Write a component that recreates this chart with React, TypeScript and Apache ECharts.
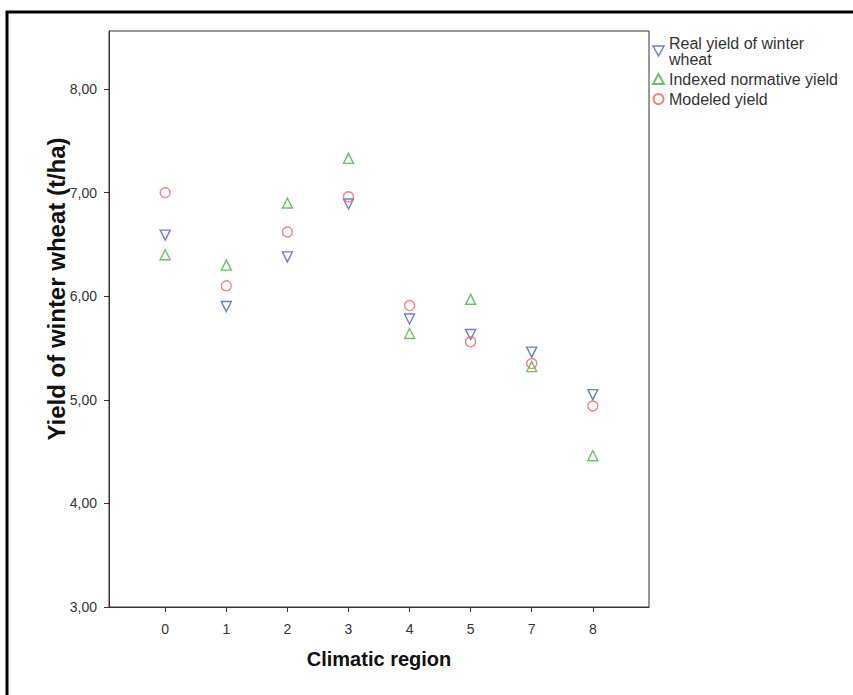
import React, { useEffect, useRef } from 'react';
import * as echarts from 'echarts';

const categories = ['0', '1', '2', '3', '4', '5', '7', '8'];
const realYield = [6.59, 5.9, 6.38, 6.89, 5.78, 5.63, 5.46, 5.05];
const normativeYield = [6.4, 6.3, 6.9, 7.33, 5.64, 5.97, 5.32, 4.46];
const modeledYield = [7.0, 6.1, 6.62, 6.96, 5.91, 5.56, 5.35, 4.94];
const yTicks = [3, 4, 5, 6, 7, 8];
const seriesNames = ['Real yield of winter wheat', 'Indexed normative yield', 'Modeled yield'];
const legendLabels = ['Real yield of winter\nwheat', 'Indexed normative yield', 'Modeled yield'];
const xTitle = 'Climatic region';
const yTitle = 'Yield of winter wheat (t/ha)';

const FONT = '"Liberation Sans", Arial, sans-serif';
const BLUE = '#4b5cbc';
const GREEN = '#3db43d';
const RED = '#f06464';
const DOWN_TRI = 'path://M0,0 L10,0 L5,9 Z';

export default function App() {
  const ref = useRef<HTMLDivElement>(null);
  useEffect(() => {
    const chart = echarts.init(ref.current!, null, { renderer: 'svg' });
    const xIdx = categories.map((_, i) => i);
    const toData = (arr: number[]) => arr.map((v, i) => [i, v]);
    const mk = (name: string, arr: number[], color: string, symbol: string, rotate: number) => ({
      name,
      type: 'scatter',
      data: toData(arr),
      symbol,
      symbolRotate: rotate,
      symbolSize: 10,
      itemStyle: { color: 'rgba(0,0,0,0)', borderColor: color, borderWidth: 1.4 },
      emphasis: { disabled: true },
    });
    chart.setOption({
      animation: false,
      backgroundColor: '#fff',
      grid: {
        left: 109, top: 31, right: 204, bottom: 88,
        show: true, borderColor: '#333', borderWidth: 1, backgroundColor: 'transparent',
      },
      legend: {
        orient: 'vertical', left: 647, top: 30,
        itemWidth: 11, itemHeight: 10, itemGap: 4,
        data: [
          { name: seriesNames[0], icon: DOWN_TRI, itemStyle: { color: 'rgba(0,0,0,0)', borderColor: BLUE, borderWidth: 1.4 } },
          { name: seriesNames[1] },
          { name: seriesNames[2] },
        ],
        formatter: (n: string) => legendLabels[seriesNames.indexOf(n)],
        textStyle: { fontSize: 16, lineHeight: 16, color: '#333', fontFamily: FONT },
      },
      xAxis: {
        type: 'value', min: -0.92, max: 7.92,
        splitLine: { show: false },
        axisLine: { show: true, onZero: false, lineStyle: { color: '#333', width: 1 } },
        axisTick: { show: true, length: 5, customValues: xIdx, lineStyle: { color: '#333' } },
        axisLabel: {
          customValues: xIdx,
          formatter: (v: number) => categories[Math.round(v)] ?? '',
          fontSize: 14, color: '#333', margin: 15, fontFamily: FONT,
        },
        name: xTitle, nameLocation: 'middle', nameGap: 42,
        nameTextStyle: { fontSize: 20, fontWeight: 'bold', color: '#111', fontFamily: FONT },
      },
      yAxis: {
        type: 'value', min: 3, max: 8.56, interval: 1,
        splitLine: { show: false },
        axisLine: { show: true, onZero: false, lineStyle: { color: '#333', width: 1 } },
        axisTick: { show: true, length: 5, customValues: yTicks, lineStyle: { color: '#333' } },
        axisLabel: {
          customValues: yTicks,
          formatter: (v: number) => v.toFixed(2).replace('.', ','),
          fontSize: 14, color: '#333', margin: 12, fontFamily: FONT,
        },
      },
      graphic: [
        {
          type: 'rect', silent: true,
          shape: { x: 7, y: 12, width: 1000, height: 1000 },
          style: { fill: 'none', stroke: '#000', lineWidth: 3 },
        },
        {
          type: 'text', silent: true, x: 56, y: 289, rotation: Math.PI / 2,
          style: {
            text: yTitle, fontSize: 24, fontWeight: 'bold', fontFamily: FONT,
            fill: '#111', align: 'center', verticalAlign: 'middle',
          },
        },
      ],
      series: [
        mk(seriesNames[0], realYield, BLUE, 'triangle', 180),
        mk(seriesNames[1], normativeYield, GREEN, 'triangle', 0),
        mk(seriesNames[2], modeledYield, RED, 'circle', 0),
      ],
    });
    return () => chart.dispose();
  }, []);
  return (
    <div
      ref={ref}
      style={{ position: 'absolute', left: 0, top: 0, width: 853, height: 695, background: '#fff' }}
    />
  );
}
